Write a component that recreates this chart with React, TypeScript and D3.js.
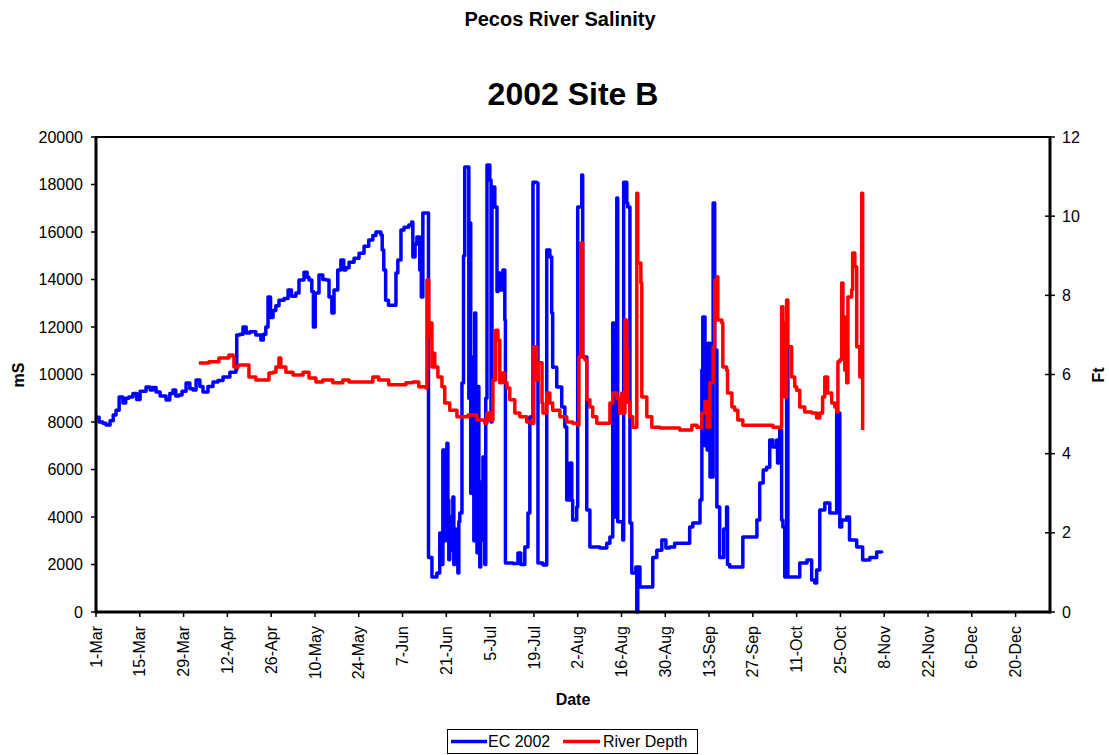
import React from "react";
import * as d3 from "d3";

// [days since 1-Mar-2002, EC in mS]
const ecSeries: [number, number][] = [
  [0, 8200], [1, 8000], [2.2, 7950], [3.2, 7870], [4.5, 8050], [5.5, 8300], [6.4, 8500], [7.4, 9050],
  [8.6, 8800], [9.5, 9000], [10.5, 9050], [11.8, 9200], [13, 8950], [14.1, 9300], [16, 9470], [17.3, 9350],
  [18.2, 9450], [19.2, 9260], [20.5, 9100], [22.4, 8925], [23.6, 9200], [24.6, 9350], [25.5, 9100], [26.5, 9140],
  [27.5, 9300], [28.8, 9640], [30, 9400], [31, 9350], [32, 9770], [33.2, 9500], [34.2, 9260], [35.8, 9500],
  [37.4, 9680], [39, 9750], [40.6, 9900], [42.8, 10100], [44.7, 10190], [45, 11660], [46, 11700], [47, 12000],
  [48, 11750], [49.2, 11800], [51.1, 11660], [52.7, 11450], [53.5, 11700], [54.3, 12000], [55, 13260], [55.8, 12400],
  [56.6, 12700], [57.5, 12900], [58.5, 13130], [60.1, 13200], [61.4, 13560], [62.5, 13300], [63.9, 13430], [64.9, 13980],
  [66.5, 14310], [67.5, 14100], [68.1, 13980], [69, 13500], [69.5, 12000], [70.1, 13430], [71.3, 14190], [72.5, 14000],
  [73.5, 13980], [74.5, 13260], [75.4, 12590], [76.1, 13560], [77.3, 14400], [78.3, 14820], [79.2, 14400], [79.9, 14500],
  [80.9, 14730], [82.5, 14900], [84.1, 15110], [85.7, 15400], [87.2, 15660], [88.5, 15850], [89.5, 16000], [91.1, 15870],
  [91.5, 15240], [92, 14400], [92.6, 13130], [93.5, 12920], [95.2, 12920], [95.9, 14270], [96.5, 14820], [97.5, 16080],
  [98.5, 16200], [100, 16290], [100.9, 16420], [101.3, 14950], [102, 15500], [102.6, 15790], [103.5, 14400], [104, 13260],
  [104.5, 16800], [106.1, 16800], [106.3, 2300], [107.4, 1470], [109, 1640], [109.9, 3325], [110.6, 2000], [110.9, 6820],
  [111.4, 3000], [111.8, 6500], [112.2, 7110], [112.5, 4715], [112.8, 2200], [113.1, 4000], [113.5, 2600], [114.1, 4840],
  [114.4, 2000], [114.7, 3500], [115.1, 2500], [115.4, 3030], [115.7, 1640], [116, 3800], [116.3, 4170],
  [117, 9640], [117.5, 15000], [117.9, 18740], [118.9, 18740], [119.2, 9000], [119.5, 16380], [119.8, 5000], [120.2, 10740],
  [120.5, 7000], [120.8, 3000], [121.1, 12590], [121.4, 5000], [121.8, 2500], [122.1, 9500], [122.4, 4000], [122.7, 1900],
  [123, 4500], [123.4, 5500], [123.7, 6530], [124, 3000], [124.3, 2000], [124.6, 9000], [125, 18820],
  [125.9, 18190], [126.3, 8000], [126.6, 17600], [126.9, 17900], [127.5, 17050], [128.2, 13500], [128.5, 14270], [129.1, 13560],
  [130.1, 14400], [130.7, 12290], [130.9, 2060], [133.3, 2040], [134.9, 2480], [135.8, 2000], [137.1, 2740], [138.1, 4170],
  [138.7, 8210], [139.7, 18100], [140.9, 18060], [141.3, 2060], [142.9, 1980], [144.1, 15240], [145.1, 14950], [145.7, 12590],
  [146, 10310], [147.3, 9470], [148.9, 8630], [149.9, 7790], [150.5, 4715], [151.5, 6270], [152.1, 4715], [152.4, 3870],
  [153.7, 4420], [154, 17050], [155.3, 18400], [155.6, 10740], [156.9, 4290], [157.9, 2740], [161.1, 2700], [163.3, 2900],
  [164.3, 3160], [165.2, 12170], [165.6, 4000], [166.5, 17430], [166.8, 3800], [168.4, 3030], [168.7, 18100], [169.7, 17220],
  [170, 17050], [170.7, 3750], [171.3, 1640], [172.6, 1900], [172.9, 0], [173.2, 1900], [173.9, 1050], [177, 1050],
  [178, 2300], [179.3, 2600], [180.9, 3030], [182.2, 2700], [183.4, 2740], [185, 2900], [187.6, 2900], [189.8, 3580],
  [190.8, 3750], [193.1, 4715], [193.7, 10190], [194, 12420], [194.7, 7000], [195.4, 6820], [195.7, 11320], [196.3, 5680],
  [197.3, 17220], [197.8, 11030], [198.5, 4420], [199.4, 2300], [200.7, 3500], [201.6, 4420], [201.9, 2000], [202.6, 1900],
  [204.9, 1900], [206.8, 3160], [210, 3160], [211.3, 3870], [212.2, 5430], [213.3, 5980], [214.4, 6100], [215.4, 7240],
  [216.4, 6950], [217.6, 7240], [217.9, 6270], [218.6, 7660], [219.2, 3870], [219.6, 3580], [220.2, 1470], [220.8, 11160],
  [221.2, 1470], [224, 1470], [225, 2060], [227.3, 2190], [228.8, 1350], [229.8, 1220], [230.4, 1770], [231.4, 4290],
  [233, 4590], [234.6, 4170], [236.2, 4170], [236.8, 8380], [237.8, 3580], [238.4, 3870], [240, 4000], [240.9, 3030],
  [243.2, 2740], [245.1, 2190], [247.4, 2300], [249.6, 2530], [251.2, 2480],
];

// [days since 1-Mar-2002, river depth in ft]
const depthSeries: [number, number][] = [
  [32.9, 6.29], [36.1, 6.32], [39.3, 6.42], [42.5, 6.49], [43.8, 6.44], [44.1, 6.19], [45.4, 6.24], [47.3, 6.24],
  [48.9, 5.94], [51.1, 5.86], [54.3, 5.86], [55.3, 6.04], [56.6, 6.06], [57.5, 6.19], [58.5, 6.42], [59.1, 6.19],
  [60.7, 6.06], [63, 5.99], [66.2, 6.06], [68.1, 5.91], [70.3, 5.81], [72.5, 5.86], [75.7, 5.79], [78.9, 5.86],
  [80.9, 5.81], [85.3, 5.81], [88.5, 5.94], [90.4, 5.86], [93.6, 5.74], [95.9, 5.74], [99.1, 5.79], [101.3, 5.81],
  [103.2, 5.69], [105.5, 5.66], [105.8, 8.39], [106.4, 7.0], [106.7, 7.3], [107.4, 6.19], [107.7, 6.54], [108.3, 6.19],
  [109.3, 5.94], [110.6, 5.69], [111.5, 5.28], [113.1, 5.1], [115.4, 4.93], [117.3, 4.93], [118.9, 4.98], [121.8, 4.85],
  [124.3, 4.77], [125, 5.03], [125.9, 4.85], [126.9, 5.86], [127.8, 7.12], [128.5, 6.87], [129.1, 5.79], [129.8, 6.04],
  [130.7, 5.79], [131.4, 5.66], [132.3, 5.36], [133.9, 5.03], [135.5, 4.93], [137.7, 4.8], [139.3, 4.77], [140, 6.7],
  [140.9, 5.86], [141.3, 6.3], [142.6, 5.28], [142.9, 5.03], [144.1, 5.53], [145.1, 5.28], [146, 5.1], [148.3, 4.93],
  [150.5, 4.8], [152.4, 4.77], [154, 4.72], [154.4, 6.44], [155, 9.32], [155.6, 6.44], [156.3, 6.37], [156.9, 5.36],
  [157.9, 5.18], [158.8, 4.93], [160.1, 4.77], [163.3, 4.77], [164.3, 5.28], [165.2, 5.53], [166.5, 5.4], [167.4, 5.03],
  [168.1, 5.53], [168.4, 5.03], [169.1, 7.38], [169.7, 6.62], [170, 5.3], [170.7, 4.93], [171.6, 4.67], [172.9, 10.58],
  [173.2, 8.82], [174.2, 8.31], [174.5, 5.43], [175.4, 5.43], [176.1, 4.93], [177.7, 4.67], [180.3, 4.65], [183.4, 4.65],
  [186.6, 4.6], [189.2, 4.6], [190.5, 4.72], [192.1, 4.67], [193.7, 5.03], [194.7, 5.31], [195.4, 4.67], [196.3, 5.79],
  [197.3, 6.7], [197.8, 8.39], [198.5, 8.47], [198.8, 7.38], [200.1, 7.3], [200.4, 6.19], [201.6, 6.11], [201.9, 5.53],
  [203.3, 5.18], [204.2, 5.1], [205.2, 4.85], [206.8, 4.72], [211.3, 4.72], [216.4, 4.67], [218.9, 4.67], [219.2, 7.71],
  [219.6, 7.3], [220.2, 5.43], [220.8, 7.88], [221.2, 6.7], [222.4, 5.94], [223.4, 5.69], [224, 5.6], [225, 5.18],
  [226.6, 5.05], [228.8, 5.03], [230.4, 4.9], [231.4, 5.03], [232.3, 5.43], [233, 5.94], [233.9, 5.53], [235.2, 5.28],
  [236.2, 5.18], [236.8, 5.05], [237.2, 6.32], [237.8, 6.37], [238.4, 8.31], [238.8, 7.45], [239.4, 6.11], [240, 5.79],
  [240.4, 7.96], [241.6, 8.14], [241.9, 9.07], [242.6, 8.72], [243.2, 6.7], [244.2, 5.94], [244.8, 10.58], [245.1, 4.6],
];

const leftTicks = [0, 2000, 4000, 6000, 8000, 10000, 12000, 14000, 16000, 18000, 20000];
const rightTicks = [0, 2, 4, 6, 8, 10, 12];
const dateTickLabels = [
  "1-Mar", "15-Mar", "29-Mar", "12-Apr", "26-Apr", "10-May", "24-May", "7-Jun", "21-Jun", "5-Jul", "19-Jul",
  "2-Aug", "16-Aug", "30-Aug", "13-Sep", "27-Sep", "11-Oct", "25-Oct", "8-Nov", "22-Nov", "6-Dec", "20-Dec",
];

const W = 1109;
const H = 755;
const L = 96, R = 1050, T = 137, B = 612;
const FONT = "'Liberation Sans', Arial, sans-serif";

const START = Date.UTC(2002, 2, 1);
const END = Date.UTC(2002, 11, 31);
const toDate = (d: number) => new Date(START + d * 864e5);
const parseTick = d3.utcParse("%d-%b-%Y");

export default function App() {
  const x = d3.scaleUtc().domain([new Date(START), new Date(END)]).range([L, R]);
  const yL = d3.scaleLinear().domain([0, 20000]).range([B, T]);
  const yR = d3.scaleLinear().domain([0, 12]).range([B, T]);

  const ecLine = d3
    .line<[number, number]>()
    .x((d) => x(toDate(d[0])))
    .y((d) => yL(d[1]))
    .curve(d3.curveStepAfter);
  const depthLine = d3
    .line<[number, number]>()
    .x((d) => x(toDate(d[0])))
    .y((d) => yR(d[1]))
    .curve(d3.curveStepAfter);

  const dateTicks = dateTickLabels.map((lab) => ({ lab, date: parseTick(lab + "-2002") as Date }));

  return (
    <svg
      width={W}
      height={H}
      style={{ position: "absolute", left: 0, top: 0, background: "#fff" }}
      fontFamily={FONT}
    >
      <rect x={0} y={0} width={W} height={H} fill="#fff" />
      <text x={560} y={26} textAnchor="middle" fontSize={20} fontWeight="bold">
        Pecos River Salinity
      </text>
      <text x={573} y={105} textAnchor="middle" fontSize={32} fontWeight="bold">
        2002 Site B
      </text>

      {/* series */}
      <path d={ecLine(ecSeries) || ""} fill="none" stroke="#0000FF" strokeWidth={3.5} strokeLinejoin="round" />
      <path d={depthLine(depthSeries) || ""} fill="none" stroke="#FF0000" strokeWidth={3.5} strokeLinejoin="round" />

      {/* plot frame */}
      <line x1={L} x2={R} y1={T} y2={T} stroke="#000" strokeWidth={2} />
      <line x1={L} x2={L} y1={T - 1} y2={B + 1.5} stroke="#000" strokeWidth={3} />
      <line x1={R} x2={R} y1={T - 1} y2={B + 1.5} stroke="#000" strokeWidth={3} />
      <line x1={L} x2={R} y1={B} y2={B} stroke="#000" strokeWidth={3} />

      {/* left axis */}
      {leftTicks.map((v) => (
        <g key={"l" + v}>
          <line x1={L - 5} x2={L} y1={yL(v)} y2={yL(v)} stroke="#000" strokeWidth={1.5} />
          <text x={83} y={yL(v)} dy="0.35em" textAnchor="end" fontSize={16}>
            {v}
          </text>
        </g>
      ))}
      {/* right axis */}
      {rightTicks.map((v) => (
        <g key={"r" + v}>
          <line x1={R - 5} x2={R + 5} y1={yR(v)} y2={yR(v)} stroke="#000" strokeWidth={1.5} />
          <text x={1062} y={yR(v)} dy="0.35em" textAnchor="start" fontSize={16}>
            {v}
          </text>
        </g>
      ))}
      {/* x axis */}
      {dateTicks.map((t) => (
        <g key={t.lab}>
          <line x1={x(t.date)} x2={x(t.date)} y1={B} y2={B + 5} stroke="#000" strokeWidth={1.5} />
          <text
            transform={`translate(${x(t.date)},${B + 14}) rotate(-90)`}
            dy="0.35em"
            textAnchor="end"
            fontSize={16}
          >
            {t.lab}
          </text>
        </g>
      ))}

      <text x={573} y={705} textAnchor="middle" fontSize={16} fontWeight="bold">
        Date
      </text>
      <text transform="translate(24,375) rotate(-90)" textAnchor="middle" fontSize={16} fontWeight="bold">
        mS
      </text>
      <text transform="translate(1104,375) rotate(-90)" textAnchor="middle" fontSize={16} fontWeight="bold">
        Ft
      </text>

      {/* legend */}
      <rect x={447.5} y={729.5} width={250} height={24} fill="#fff" stroke="#000" strokeWidth={1} />
      <line x1={451} x2={487} y1={741.5} y2={741.5} stroke="#0000FF" strokeWidth={3.5} />
      <text x={488} y={747} fontSize={16}>
        EC 2002
      </text>
      <line x1={563} x2={600} y1={741.5} y2={741.5} stroke="#FF0000" strokeWidth={3.5} />
      <text x={603} y={747} fontSize={16}>
        River Depth
      </text>
    </svg>
  );
}
